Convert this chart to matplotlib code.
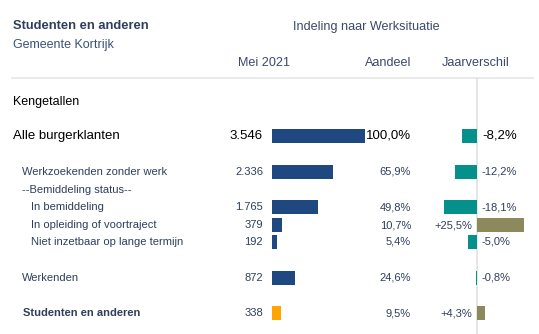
import numpy as np
import matplotlib
matplotlib.use("Agg")
import matplotlib.pyplot as plt

plt.rcParams['font.family'] = ['Liberation Sans', 'DejaVu Sans']

# Data
labels = ["Alle burgerklanten", "Werkzoekenden zonder werk", "--Bemiddeling status--",
          "In bemiddeling", "In opleiding of voortraject", "Niet inzetbaar op lange termijn",
          "Werkenden", "Studenten en anderen"]
counts = [3546, 2336, np.nan, 1765, 379, 192, 872, 338]
shares = [100.0, 65.9, np.nan, 49.8, 10.7, 5.4, 24.6, 9.5]
changes = [-8.2, -12.2, np.nan, -18.1, 25.5, -5.0, -0.8, 4.3]
indent = [0, 1, 1, 2, 2, 2, 1, 1]

# Layout (pixels)
W, H = 539, 334
row_y = [136, 172, 190, 207, 225, 242, 278, 313]
navy = "#1f4780"
teal = "#05908b"
olive = "#8c8a5c"
orange = "#ffa500"
txt = "#2e3e5c"


def fmt_int(v):
    return f"{int(v):,}".replace(",", ".")


def fmt_pct(v, sign=False):
    s = f"{v:+.1f}%" if sign else f"{v:.1f}%"
    return s.replace(".", ",")


fig = plt.figure(figsize=(W / 100, H / 100), dpi=100)
fig.patch.set_facecolor("white")

# text layer in pixel coordinates
ax = fig.add_axes([0, 0, 1, 1])
ax.set_xlim(0, W)
ax.set_ylim(H, 0)
ax.axis("off")

# bar layer for counts: 0 at x=272, 3546 -> 93 px
scale_c = 93 / 3546
axc = fig.add_axes([0, 0, 1, 1], facecolor="none")
axc.set_xlim(-272 / scale_c, (W - 272) / scale_c)
axc.set_ylim(H, 0)
axc.axis("off")

# bar layer for year change: 0 at x=477, 1.83 px per %
scale_d = 1.83
axd = fig.add_axes([0, 0, 1, 1], facecolor="none")
axd.set_xlim(-477 / scale_d, (W - 477) / scale_d)
axd.set_ylim(H, 0)
axd.axis("off")

# header
hc = "#3b4a6b"
ax.text(13, 26, "Studenten en anderen", fontsize=9.3, fontweight="bold", color=txt, va="center")
ax.text(13, 45, "Gemeente Kortrijk", fontsize=9, color="#3b5078", va="center")
ax.text(366, 27, "Indeling naar Werksituatie", fontsize=9.1, color=hc, va="center", ha="center")
ax.text(290, 63, "Mei 2021", fontsize=9.1, color=hc, va="center", ha="right")
ax.text(411, 63, "Aandeel", fontsize=9.1, color=hc, va="center", ha="right")
ax.text(476, 63, "Jaarverschil", fontsize=9.1, color=hc, va="center", ha="center")
ax.plot([12, 533], [78, 78], color="#e6e6e6", lw=1.2)
ax.plot([477, 477], [78, H], color="#e2e2e2", lw=1.2)
ax.text(13, 102, "Kengetallen", fontsize=9, color="black", va="center")

for i, lab in enumerate(labels):
    y = row_y[i]
    top = i == 0
    bold = lab == "Studenten en anderen"
    col = "black" if top else txt
    fs = 9.5 if top else 8
    x0 = [13, 22, 31][indent[i]] + (1 if bold else 0)
    ax.text(x0, y, lab, fontsize=fs, color=col, va="center",
            fontweight="bold" if bold else "normal")
    if np.isnan(counts[i]):
        continue
    ax.text(263, y, fmt_int(counts[i]), fontsize=fs, color=col, va="center", ha="right")
    ax.text(411, y, fmt_pct(shares[i]), fontsize=fs, color=col, va="center", ha="right")
    bc = orange if bold else navy
    axc.barh(y, counts[i], height=14, left=0, color=bc, edgecolor="none")
    d = changes[i]
    dc = teal if d < 0 else olive
    axd.barh(y, d, height=14, left=0, color=dc, edgecolor="none")
    if d < 0:
        ax.text(482, y, fmt_pct(d), fontsize=fs, color=col, va="center", ha="left")
    else:
        ax.text(472, y, fmt_pct(d, sign=True), fontsize=fs, color=col, va="center", ha="right")

fig.savefig("out.png", dpi=100, facecolor="white")
